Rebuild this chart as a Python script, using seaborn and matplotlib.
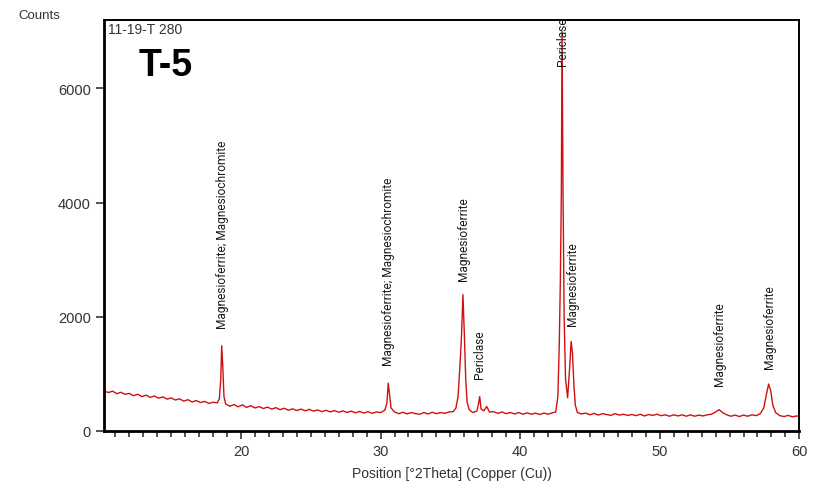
import matplotlib
matplotlib.use("Agg")
import matplotlib.pyplot as plt
from matplotlib.ticker import MultipleLocator
import seaborn as sns
import pandas as pd

# ---- data ----
two_theta = [
    10.2, 10.5, 10.8, 11.1, 11.4, 11.7, 12.0, 12.3, 12.6, 12.9, 13.2, 13.5, 13.8, 14.1,
    14.4, 14.7, 15.0, 15.3, 15.6, 15.9, 16.2, 16.5, 16.8, 17.1, 17.4, 17.7, 18.0, 18.3,
    18.45, 18.55, 18.62, 18.70, 18.78, 18.9,
    19.2, 19.5, 19.8, 20.1, 20.4, 20.7, 21.0, 21.3, 21.6, 21.9, 22.2, 22.5, 22.8, 23.1,
    23.4, 23.7, 24.0, 24.3, 24.6, 24.9, 25.2, 25.5, 25.8, 26.1, 26.4, 26.7, 27.0, 27.3,
    27.6, 27.9, 28.2, 28.5, 28.8, 29.1, 29.4, 29.7, 30.0, 30.3,
    30.45, 30.55, 30.65, 30.75,
    31.0, 31.3, 31.6, 31.9, 32.2, 32.5, 32.8, 33.1, 33.4, 33.7, 34.0, 34.3, 34.6, 34.9,
    35.2, 35.4,
    35.55, 35.7, 35.8, 35.9, 36.0, 36.1, 36.2, 36.35,
    36.6, 36.9, 37.0, 37.1, 37.2, 37.4, 37.6, 37.8, 38.1, 38.4, 38.7, 39.0, 39.3, 39.6,
    39.9, 40.2, 40.5, 40.8, 41.1, 41.4, 41.7, 42.0, 42.3, 42.55,
    42.7, 42.8, 42.88, 42.95, 43.0, 43.07, 43.15, 43.25, 43.4, 43.55, 43.65, 43.75,
    43.85, 43.95, 44.1,
    44.4, 44.7, 45.0, 45.3, 45.6, 45.9, 46.2, 46.5, 46.8, 47.1, 47.4, 47.7, 48.0, 48.3,
    48.6, 48.9, 49.2, 49.5, 49.8, 50.1, 50.4, 50.7, 51.0, 51.3, 51.6, 51.9, 52.2, 52.5,
    52.8, 53.1, 53.4, 53.7, 54.0, 54.25, 54.5, 54.8, 55.1, 55.4, 55.7, 56.0, 56.3, 56.6,
    56.9, 57.2, 57.45, 57.65, 57.8, 57.95, 58.1, 58.3, 58.6, 58.9, 59.2, 59.5, 59.8, 60.0,
]
counts = [
    700, 670, 695, 650, 675, 640, 655, 615, 640, 600, 625, 585, 610, 570,
    595, 555, 575, 540, 560, 520, 545, 505, 530, 495, 515, 480, 500, 490,
    560, 900, 1490, 1100, 600, 470,
    430, 460, 420, 455, 410, 440, 400, 425, 390, 415, 380, 405, 370, 395,
    360, 385, 355, 380, 350, 375, 345, 365, 335, 360, 330, 355, 325, 350,
    320, 345, 315, 340, 310, 335, 305, 330, 320, 360,
    480, 835, 620, 400,
    330, 300, 325, 295, 320, 300, 290, 320, 295, 325, 300, 320, 305, 330,
    335, 400,
    600, 1200, 1680, 2386, 1700, 900, 500, 370,
    320, 345, 450, 600, 380, 350, 426, 330, 335, 305, 330, 300, 320, 295,
    320, 290, 315, 290, 310, 285, 310, 290, 315, 330,
    600, 1500, 2650, 4170, 7000, 4200, 2000, 900, 580, 1128, 1567, 1350,
    800, 450, 320,
    295, 310, 280, 305, 275, 300, 285, 270, 300, 275, 290, 270, 285, 265,
    290, 260, 285, 270, 290, 265, 280, 255, 280, 260, 280, 255, 280, 255,
    275, 260, 280, 290, 330, 370, 320, 280, 255, 275, 250, 275, 255, 280,
    265, 300, 400, 650, 820, 700, 450, 320, 265, 250, 270, 245, 260, 250,
]

label_pos = [18.66, 30.6, 35.95, 37.1, 43.05, 43.75, 54.25, 57.85]
label_base = [1800, 1160, 2650, 930, 6420, 1860, 810, 1105]
label_text = [
    "Magnesioferrite; Magnesiochromite",
    "Magnesioferrite; Magnesiochromite",
    "Magnesioferrite",
    "Periclase",
    "Periclase",
    "Magnesioferrite",
    "Magnesioferrite",
    "Magnesioferrite",
]

x_major = [20, 30, 40, 50, 60]
y_major = [0, 2000, 4000, 6000]

df = pd.DataFrame({"pos": two_theta, "counts": counts})

sns.set_style("ticks")
plt.rcParams["font.family"] = ["Liberation Sans", "DejaVu Sans"]

fig = plt.figure(figsize=(8.14, 4.89), dpi=100)
ax = fig.add_axes([0.128, 0.117, 0.854, 0.840])

sns.lineplot(data=df, x="pos", y="counts", ax=ax, color="#d01010",
             linewidth=1.0, estimator=None)

ax.set_xlim(10.2, 60)
ax.set_ylim(0, 7200)
ax.set_xticks(x_major)
ax.set_yticks(y_major)
ax.xaxis.set_minor_locator(MultipleLocator(1))
ax.tick_params(axis="both", which="major", direction="out", length=6, width=1.2,
               labelsize=10.5, labelcolor="#333333", color="#333333")
ax.tick_params(axis="x", which="minor", direction="out", length=4, width=1.2,
               color="#333333")
ax.set_xlabel("Position [°2Theta] (Copper (Cu))", fontsize=10, color="#333333",
              labelpad=6)
ax.set_ylabel("")

for side in ["left", "bottom"]:
    ax.spines[side].set_linewidth(2.0)
for side in ["top", "right"]:
    ax.spines[side].set_linewidth(1.4)
for s in ax.spines.values():
    s.set_color("black")

for p, b, t in zip(label_pos, label_base, label_text):
    ax.text(p, b, t, rotation=90, ha="center", va="bottom", fontsize=8.6,
            family=["Roboto", "DejaVu Sans"], color="#1a1a1a", clip_on=True)

fig.text(0.022, 0.968, "Counts", fontsize=9.5, color="#333333", va="center")
ax.text(0.006, 0.995, "11-19-T 280", transform=ax.transAxes, fontsize=10,
        color="#333333", ha="left", va="top")
ax.text(0.05, 0.89, "T-5", transform=ax.transAxes, fontsize=27,
        fontweight="bold", color="black", ha="left", va="center")

fig.savefig("out.png", dpi=100)
